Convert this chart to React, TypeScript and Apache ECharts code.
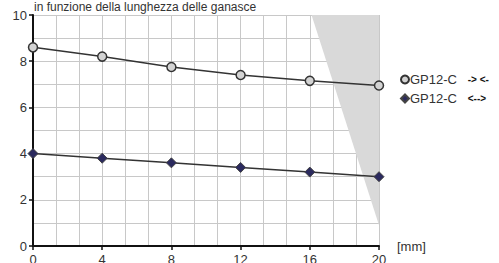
import React, { useEffect, useRef } from "react";
import * as echarts from "echarts";

const xValues = [0, 4, 8, 12, 16, 20];
const seriesClamp = [8.6, 8.2, 7.75, 7.4, 7.15, 6.95];
const seriesSpread = [4.0, 3.8, 3.6, 3.4, 3.2, 3.0];
const shadeX = [16.1, 20, 20];
const shadeY = [10, 10, 0.9];
const titleText = "in funzione della lunghezza delle ganasce";
const unitText = "[mm]";
const legendLabels = ["GP12-C", "GP12-C"];
const legendArrows = ["-> <-", "<-->"];

export default function App() {
  const ref = useRef<HTMLDivElement>(null);
  useEffect(() => {
    document.body.style.margin = "0";
    const chart = echarts.init(ref.current!, null, { renderer: "svg" });
    const font = "'Liberation Sans', Arial, sans-serif";
    chart.setOption({
      animation: false,
      textStyle: { fontFamily: font },
      title: {
        text: titleText,
        left: 34,
        top: 1,
        padding: 0,
        textStyle: { fontSize: 12, fontWeight: "normal", color: "#333", fontFamily: font },
      },
      legend: {
        orient: "vertical",
        left: 400,
        top: 73,
        itemWidth: 8,
        itemHeight: 8,
        itemGap: 6,
        padding: 0,
        data: [
          { name: "clamp", icon: "circle" },
          { name: "spread", icon: "diamond" },
        ],
        formatter: (name: string) =>
          name === "clamp"
            ? `${legendLabels[0]}   {a|${legendArrows[0]}}`
            : `${legendLabels[1]}   {a|${legendArrows[1]}}`,
        textStyle: {
          fontSize: 13,
          color: "#333",
          fontFamily: font,
          padding: [0, 0, 0, -4],
          rich: { a: { fontSize: 10, fontWeight: "bold", color: "#111", fontFamily: font } },
        },
      },
      grid: {
        left: 33,
        top: 15,
        width: 346,
        height: 231,
        containLabel: false,
        outerBoundsMode: "none",
      },
      xAxis: {
        type: "value",
        min: 0,
        max: 20,
        interval: 4,
        axisLine: { show: true, lineStyle: { color: "#111", width: 2 } },
        axisTick: { show: true, length: 4, lineStyle: { color: "#111", width: 1.5 } },
        axisLabel: { fontSize: 13, color: "#333", margin: 7, fontFamily: font },
        splitLine: { show: true, lineStyle: { color: "#c8c8c8", width: 1 } },
        minorTick: { show: false, splitNumber: 3 },
        minorSplitLine: { show: true, lineStyle: { color: "#c8c8c8", width: 1 } },
      },
      yAxis: {
        type: "value",
        min: 0,
        max: 10,
        interval: 2,
        axisLine: { show: true, lineStyle: { color: "#111", width: 2 } },
        axisTick: { show: true, length: 4, lineStyle: { color: "#111", width: 1.5 } },
        axisLabel: { fontSize: 13, color: "#333", margin: 6, fontFamily: font },
        splitLine: { show: true, lineStyle: { color: "#c8c8c8", width: 1 } },
        minorTick: { show: false, splitNumber: 2 },
        minorSplitLine: { show: true, lineStyle: { color: "#c8c8c8", width: 1 } },
      },
      graphic: [
        {
          type: "text",
          left: 397,
          top: 240,
          style: { text: unitText, fontSize: 13, fill: "#333", fontFamily: font },
        },
      ],
      series: [
        {
          type: "custom",
          name: "shade",
          silent: true,
          z: 1,
          data: [0],
          renderItem: (params: any, api: any) => {
            const pts = shadeX.map((x, i) => api.coord([x, shadeY[i]]));
            return {
              type: "polygon",
              shape: { points: pts },
              style: { fill: "#d9d9d9", stroke: "none" },
            };
          },
        },
        {
          type: "line",
          name: "clamp",
          z: 3,
          data: xValues.map((x, i) => [x, seriesClamp[i]]),
          symbol: "circle",
          symbolSize: 9,
          lineStyle: { color: "#333", width: 1.5 },
          itemStyle: { color: "#d3d3d3", borderColor: "#333", borderWidth: 1.5 },
        },
        {
          type: "line",
          name: "spread",
          z: 3,
          data: xValues.map((x, i) => [x, seriesSpread[i]]),
          symbol: "diamond",
          symbolSize: 10,
          lineStyle: { color: "#333", width: 1.5 },
          itemStyle: { color: "#2b2a5e", borderColor: "#444", borderWidth: 1 },
        },
      ],
    });
    return () => chart.dispose();
  }, []);
  return <div ref={ref} style={{ width: 499, height: 263 }} />;
}
